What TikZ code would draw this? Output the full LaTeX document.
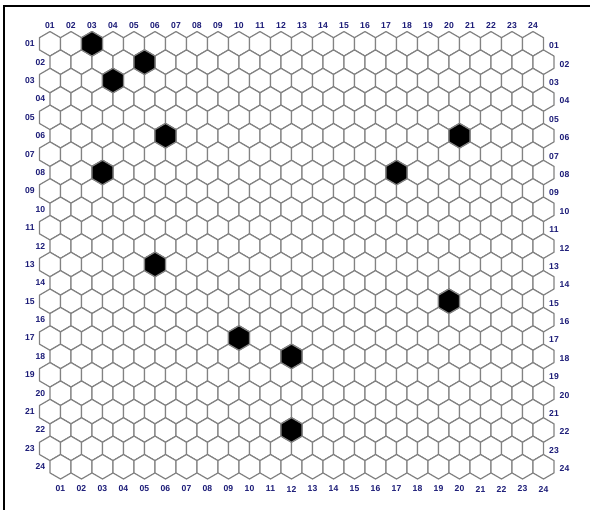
\documentclass[tikz,border=0pt]{standalone}
\usepackage{fontspec}
\setmainfont{Liberation Sans}
\definecolor{lbl}{RGB}{28,28,120}
\definecolor{gridgray}{RGB}{130,130,130}
\newcommand\twod[1]{\ifnum#1<10 0\fi#1}
\newcommand\hexcellat[3]{%
  \path[#3] (#1,{#2-12.26}) -- ({#1+10.5},{#2-6.13}) -- ({#1+10.5},{#2+6.13})
    -- (#1,{#2+12.26}) -- ({#1-10.5},{#2+6.13}) -- ({#1-10.5},{#2-6.13}) -- cycle;}
\begin{document}
\begin{tikzpicture}[x=1pt,y=-1pt,
  hexcell/.style={draw=gridgray,line width=1.2pt,fill=white,line join=round},
  hexfull/.style={draw=gridgray,line width=1.2pt,fill=black,line join=round},
  lab/.style={font=\fontsize{8.6}{9}\selectfont\bfseries,text=lbl,inner sep=0pt}]
\useasboundingbox (0,0) rectangle (590,510);
\fill[white] (0,0) rectangle (590,510);
% hex grid
\foreach \r in {1,...,24}{
  \foreach \c in {1,...,24}{
    \pgfmathsetmacro\cx{50+(\c-1)*21+ifthenelse(mod(\r,2)==0,10.5,0)}
    \pgfmathsetmacro\cy{43.8+(\r-1)*18.39}
    \hexcellat{\cx}{\cy}{hexcell}
  }
}
% filled cells (row/col)
\foreach \r/\c in {1/3,2/5,3/4,6/6,6/20,8/3,8/17,13/6,15/20,17/10,18/12,22/12}{
  \pgfmathsetmacro\cx{50+(\c-1)*21+ifthenelse(mod(\r,2)==0,10.5,0)}
  \pgfmathsetmacro\cy{43.8+(\r-1)*18.39}
  \hexcellat{\cx}{\cy}{hexfull}
}
% column labels
\foreach \c in {1,...,24}{
  \node[lab] (t\c) at ({50+(\c-1)*21},26) {\twod{\c}};
  \node[lab] (b\c) at ({60.5+(\c-1)*21},489) {\twod{\c}};
}
% row labels
\foreach \r in {1,...,24}{
  \pgfmathsetmacro\cy{43.8+(\r-1)*18.39}
  \ifodd\r
    \node[lab] (l\r) at (30,\cy) {\twod{\r}};
    \node[lab] (rt\r) at (554,{\cy+2}) {\twod{\r}};
  \else
    \node[lab] (l\r) at (40.5,\cy) {\twod{\r}};
    \node[lab] (rt\r) at (564.5,{\cy+2}) {\twod{\r}};
  \fi
}
% frame
\draw[line width=2pt] (4.3,510) -- (4.3,5.7) -- (590,5.7);
\end{tikzpicture}
\end{document}
